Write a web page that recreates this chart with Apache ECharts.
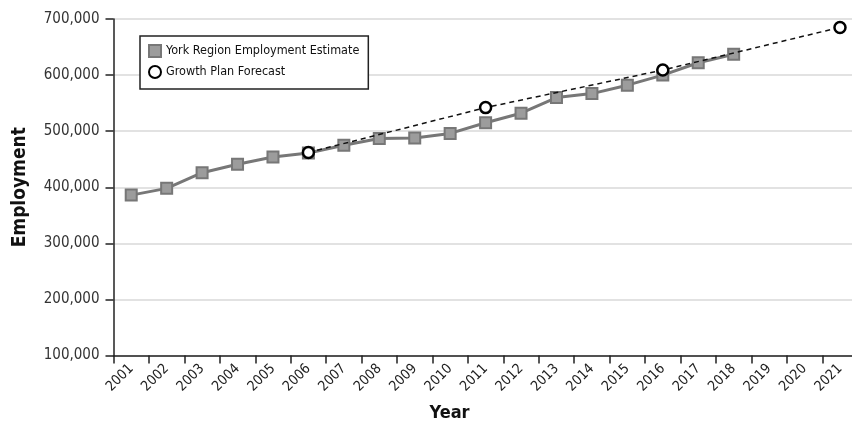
<!DOCTYPE html>
<html>
<head>
<meta charset="utf-8">
<script src="https://cdn.jsdelivr.net/npm/echarts@6/dist/echarts.min.js"></script>
<style>html,body{margin:0;padding:0;background:#fff}#c{width:852px;height:424px}</style>
</head>
<body>
<div id="c"></div>
<script>
const years = ['2001','2002','2003','2004','2005','2006','2007','2008','2009','2010','2011','2012','2013','2014','2015','2016','2017','2018','2019','2020','2021'];
const estimate = [386000,398000,426000,441000,454000,461000,475000,487000,488000,496000,515000,532000,560000,567000,582000,600000,622000,637000,null,null,null];
const forecast = [null,null,null,null,null,462000,null,null,null,null,542000,null,null,null,null,609000,null,null,null,null,685000];
const yTicks = [100000,200000,300000,400000,500000,600000,700000];

const FONT = '"DejaVu Sans Condensed", "Liberation Sans Narrow", sans-serif';
const chart = echarts.init(document.getElementById('c'), null, {renderer:'canvas'});
chart.setOption({
  animation:false,
  backgroundColor:'#fff',
  textStyle:{fontFamily:FONT},
  grid:{left:113.5, right:-5.7, top:19, bottom:68.5, containLabel:false, outerBoundsMode:'none'},
  legend:{
    orient:'vertical', left:140, top:36,
    backgroundColor:'#fff', borderColor:'#222', borderWidth:1.5,
    padding:[8,9,10,8], itemGap:7, itemWidth:12, itemHeight:12,
    textStyle:{fontFamily:FONT, fontSize:12.5, color:'#111'},
    data:[
      {name:'York Region Employment Estimate', icon:'rect'},
      {name:'Growth Plan Forecast', icon:'circle'}
    ]
  },
  xAxis:{
    type:'category', data:years, boundaryGap:true,
    name:'Year', nameLocation:'middle', nameGap:49,
    nameTextStyle:{fontFamily:FONT, fontSize:18, fontWeight:'bold', color:'#111', padding:[0,72,0,0]},
    axisLine:{lineStyle:{color:'#222', width:1.5}},
    axisTick:{show:true, length:8, alignWithLabel:false, lineStyle:{color:'#222', width:1.5}},
    axisLabel:{rotate:45, fontSize:14, color:'#222', margin:11, interval:0, fontFamily:FONT},
    splitLine:{show:false}
  },
  yAxis:{
    type:'value', min:yTicks[0], max:yTicks[yTicks.length-1], interval:100000,
    name:'Employment', nameLocation:'middle', nameGap:84, nameRotate:90,
    nameTextStyle:{fontFamily:FONT, fontSize:19, fontWeight:'bold', color:'#111'},
    axisLine:{show:true, lineStyle:{color:'#222', width:1.5}},
    axisTick:{show:true, length:8, lineStyle:{color:'#222', width:1.5}},
    axisLabel:{fontSize:15, color:'#333', margin:14, fontFamily:FONT,
      formatter:v=>v.toLocaleString('en-US')},
    splitLine:{show:true, lineStyle:{color:'#d8d8d8', width:1.5}}
  },
  series:[
    {
      name:'York Region Employment Estimate', type:'line', data:estimate,
      symbol:'rect', symbolSize:11, connectNulls:false,
      lineStyle:{color:'#777', width:3},
      itemStyle:{color:'#9c9c9c', borderColor:'#777', borderWidth:2},
      z:2
    },
    {
      name:'Growth Plan Forecast', type:'line', data:forecast,
      symbol:'circle', symbolSize:11, connectNulls:true,
      lineStyle:{color:'#111', width:1.5, type:[5,4]},
      itemStyle:{color:'#fff', borderColor:'#000', borderWidth:2.5},
      z:3
    }
  ]
});
</script>
</body>
</html>
